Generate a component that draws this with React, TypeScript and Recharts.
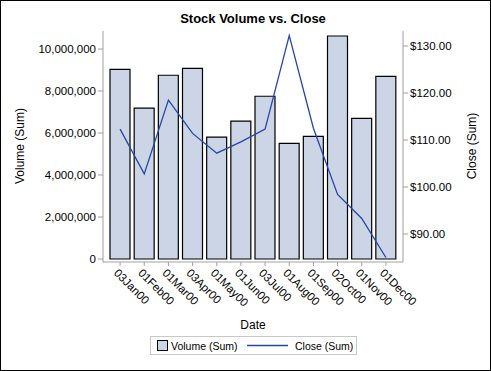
import React from "react";
import { ComposedChart, Bar, Line, XAxis, YAxis, Legend } from "recharts";

const dates = ["03Jan00", "01Feb00", "01Mar00", "03Apr00", "01May00", "01Jun00", "03Jul00", "01Aug00", "01Sep00", "02Oct00", "01Nov00", "01Dec00"];
const volume = [9030000, 7180000, 8750000, 9080000, 5800000, 6570000, 7750000, 5510000, 5840000, 10620000, 6700000, 8700000];
const closeVals = [112.3, 102.8, 118.5, 111.4, 107.2, 109.6, 112.3, 132.2, 112.5, 98.4, 93.3, 85.0];
const volumeTicks = [0, 2000000, 4000000, 6000000, 8000000, 10000000];
const closeTicks = [90, 100, 110, 120, 130];

const data = dates.map((d, i) => ({ date: d, volume: volume[i], close: closeVals[i] }));

const FONT = '"Liberation Sans", Arial, Helvetica, sans-serif';
const BAR_FILL = "#CBD5E6";
const LINE_COLOR = "#2647A8";
const FRAME = "#A0A0A0";
const TEXT = "#000000";

const XTick = (props: any) => {
  const { x, y, payload } = props;
  const tx = x - 1;
  const ty = y;
  return (
    <text
      x={tx}
      y={ty}
      dy="0.71em"
      textAnchor="start"
      transform={`rotate(45, ${tx}, ${ty})`}
      fontSize={11.5}
      fontFamily={FONT}
      fill={TEXT}
    >
      {payload.value}
    </text>
  );
};

const renderLegend = () => (
  <svg width={208} height={20} style={{ display: "block", overflow: "visible" }}>
    <rect x={0.5} y={0.5} width={206} height={18} fill="#fff" stroke="#C8C8C8" />
    <rect x={7.5} y={4.5} width={10} height={10} fill={BAR_FILL} stroke="#000" />
    <text x={21} y={10} dominantBaseline="central" fontSize={10.5} fontFamily={FONT} fill={TEXT}>
      Volume (Sum)
    </text>
    <line x1={97} x2={138} y1={9.5} y2={9.5} stroke={LINE_COLOR} strokeWidth={1.3} />
    <text x={145} y={10} dominantBaseline="central" fontSize={10.5} fontFamily={FONT} fill={TEXT}>
      Close (Sum)
    </text>
  </svg>
);

export default function App() {
  return (
    <div style={{ position: "absolute", left: 0, top: 0, width: 491, height: 371, background: "#fff" }}>
      <ComposedChart width={491} height={371} data={data} margin={{ top: 31, right: 0, bottom: 0, left: 0 }}>
        <XAxis
          xAxisId="top"
          orientation="top"
          dataKey="date"
          height={0}
          tick={false}
          tickLine={false}
          axisLine={{ stroke: FRAME }}
          padding={{ left: 5, right: 5 }}
        />
        <XAxis
          dataKey="date"
          height={109}
          interval={0}
          padding={{ left: 5, right: 5 }}
          tickSize={4}
          tickLine={{ stroke: FRAME }}
          axisLine={{ stroke: FRAME }}
          tick={<XTick />}
        />
        <YAxis
          yAxisId="left"
          width={103}
          domain={[-142857, 10857143]}
          ticks={volumeTicks}
          interval={0}
          tickSize={5}
          tickLine={{ stroke: FRAME }}
          axisLine={{ stroke: FRAME }}
          tick={{ fontSize: 11.5, fontFamily: FONT, fill: TEXT }}
          tickFormatter={(v: number) => v.toLocaleString("en-US")}
        />
        <YAxis
          yAxisId="right"
          orientation="right"
          width={88}
          domain={[84.04, 133.19]}
          ticks={closeTicks}
          interval={0}
          tickSize={5}
          tickLine={{ stroke: FRAME }}
          axisLine={{ stroke: FRAME }}
          tick={{ fontSize: 11.5, fontFamily: FONT, fill: TEXT }}
          tickFormatter={(v: number) => "$" + v.toFixed(2)}
        />
        <Bar
          yAxisId="left"
          dataKey="volume"
          name="Volume (Sum)"
          fill={BAR_FILL}
          stroke="#000"
          strokeWidth={1.2}
          barSize={20}
          isAnimationActive={false}
        />
        <Line
          yAxisId="right"
          dataKey="close"
          name="Close (Sum)"
          type="linear"
          stroke={LINE_COLOR}
          strokeWidth={1.3}
          dot={false}
          activeDot={false}
          isAnimationActive={false}
        />
        <Legend
          content={renderLegend}
          wrapperStyle={{ position: "absolute", left: 150, top: 336, width: 208, height: 0 }}
        />
        <text x={253} y={23} textAnchor="middle" fontSize={13} fontWeight="bold" fontFamily={FONT} fill={TEXT}>
          Stock Volume vs. Close
        </text>
        <text
          x={20}
          y={146}
          textAnchor="middle"
          dominantBaseline="central"
          transform="rotate(-90, 20, 146)"
          fontSize={12}
          fontFamily={FONT}
          fill={TEXT}
        >
          Volume (Sum)
        </text>
        <text
          x={472}
          y={146}
          textAnchor="middle"
          dominantBaseline="central"
          transform="rotate(-90, 472, 146)"
          fontSize={12}
          fontFamily={FONT}
          fill={TEXT}
        >
          Close (Sum)
        </text>
        <text x={253} y={325} textAnchor="middle" dominantBaseline="central" fontSize={12} fontFamily={FONT} fill={TEXT}>
          Date
        </text>
      </ComposedChart>
      <div
        style={{
          position: "absolute",
          left: 0,
          top: 0,
          width: 491,
          height: 371,
          boxSizing: "border-box",
          border: "1px solid #000",
          pointerEvents: "none",
        }}
      />
    </div>
  );
}
